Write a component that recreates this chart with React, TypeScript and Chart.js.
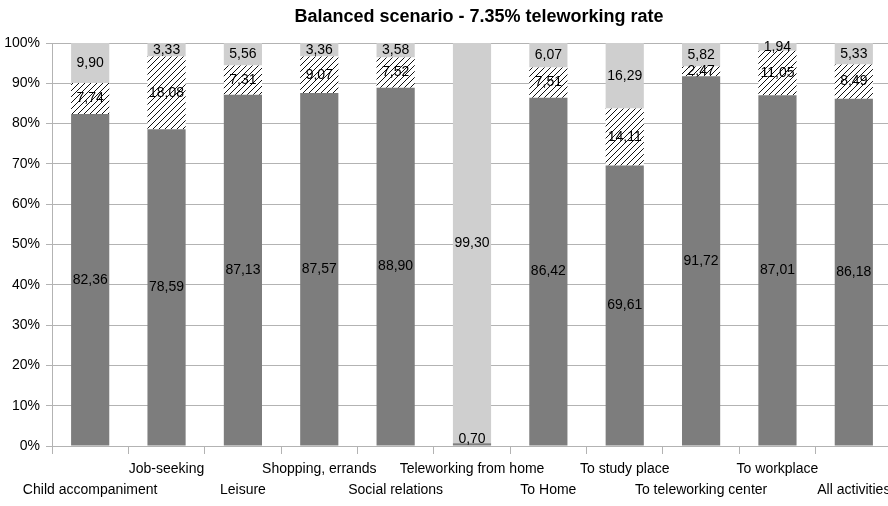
import React, { useEffect, useRef } from 'react';
import { Chart, registerables } from 'chart.js';

Chart.register(...registerables);

const categories = [
  'Child accompaniment',
  'Job-seeking',
  'Leisure',
  'Shopping, errands',
  'Social relations',
  'Teleworking from home',
  'To Home',
  'To study place',
  'To teleworking center',
  'To workplace',
  'All activities',
];
const bottomValues = [82.36, 78.59, 87.13, 87.57, 88.9, 0.7, 86.42, 69.61, 91.72, 87.01, 86.18];
const middleValues = [7.74, 18.08, 7.31, 9.07, 7.52, 0, 7.51, 14.11, 2.47, 11.05, 8.49];
const topValues = [9.9, 3.33, 5.56, 3.36, 3.58, 99.3, 6.07, 16.29, 5.82, 1.94, 5.33];
const titleText = 'Balanced scenario - 7.35% teleworking rate';

const FONT = '"Liberation Sans", Arial, sans-serif';

function makeHatch(): CanvasPattern | string {
  const s = 6;
  const c = document.createElement('canvas');
  c.width = s;
  c.height = s;
  const g = c.getContext('2d');
  if (!g) return '#ffffff';
  g.fillStyle = '#ffffff';
  g.fillRect(0, 0, s, s);
  g.strokeStyle = '#111111';
  g.lineWidth = 1;
  g.beginPath();
  g.moveTo(0, s);
  g.lineTo(s, 0);
  g.moveTo(-1, 1);
  g.lineTo(1, -1);
  g.moveTo(s - 1, s + 1);
  g.lineTo(s + 1, s - 1);
  g.stroke();
  return g.createPattern(c, 'repeat') || '#ffffff';
}

const valueLabels = {
  id: 'valueLabels',
  afterDatasetsDraw(chart: any) {
    const ctx = chart.ctx;
    ctx.save();
    ctx.font = '14px ' + FONT;
    ctx.fillStyle = '#000';
    ctx.textAlign = 'center';
    ctx.textBaseline = 'middle';
    chart.data.datasets.forEach((ds: any, di: number) => {
      const meta = chart.getDatasetMeta(di);
      meta.data.forEach((el: any, i: number) => {
        const v = ds.data[i];
        if (!v) return;
        const p = el.getProps(['x', 'y', 'base'], true);
        let cy = (p.y + p.base) / 2;
        if (Math.abs(p.base - p.y) < 6) cy = p.base - 6;
        ctx.fillText(v.toFixed(2).replace('.', ','), p.x, cy);
      });
    });
    ctx.restore();
  },
};

const titlePlugin = {
  id: 'customTitle',
  afterDraw(chart: any) {
    const ctx = chart.ctx;
    ctx.save();
    ctx.font = 'bold 18px ' + FONT;
    ctx.fillStyle = '#000';
    ctx.textAlign = 'center';
    ctx.textBaseline = 'middle';
    ctx.fillText(titleText, 479, 17);
    ctx.restore();
  },
};

export default function App() {
  const ref = useRef<HTMLCanvasElement | null>(null);

  useEffect(() => {
    if (!ref.current) return;
    const hatch = makeHatch();
    const labels = categories.map((c, i) => (i % 2 === 0 ? ['', c] : [c, '']));
    const chart = new Chart(ref.current, {
      type: 'bar',
      data: {
        labels,
        datasets: [
          { label: 'a', data: bottomValues, backgroundColor: '#7d7d7d', borderWidth: 0 },
          { label: 'b', data: middleValues, backgroundColor: hatch as any, borderWidth: 0 },
          { label: 'c', data: topValues, backgroundColor: '#cfcfcf', borderWidth: 0 },
        ],
      },
      options: {
        animation: false,
        responsive: true,
        maintainAspectRatio: false,
        devicePixelRatio: 1,
        layout: { padding: { top: 43, right: 68, bottom: 0, left: 0 } },
        datasets: { bar: { categoryPercentage: 1, barPercentage: 0.5 } },
        plugins: {
          legend: { display: false },
          title: { display: false },
          tooltip: { enabled: false },
        },
        scales: {
          x: {
            stacked: true,
            offset: true,
            grid: {
              offset: true,
              drawOnChartArea: false,
              drawTicks: true,
              tickLength: 8,
              color: '#b3b3b3',
            },
            border: { display: true, color: '#b3b3b3' },
            ticks: {
              autoSkip: false,
              maxRotation: 0,
              minRotation: 0,
              padding: 5,
              color: '#000',
              font: { size: 14, family: FONT, lineHeight: 1.5 },
            },
            afterFit(scale: any) {
              scale.height = 60;
            },
          },
          y: {
            stacked: true,
            min: 0,
            max: 100,
            grid: { color: '#b3b3b3', tickLength: 6, drawTicks: true },
            border: { display: true, color: '#b3b3b3' },
            ticks: {
              stepSize: 10,
              padding: 6,
              color: '#000',
              font: { size: 14, family: FONT },
              callback: (v: any) => v + '%',
            },
            afterFit(scale: any) {
              scale.width = 52;
            },
          },
        },
      },
      plugins: [valueLabels, titlePlugin],
    });
    return () => chart.destroy();
  }, []);

  return (
    <div style={{ position: 'fixed', left: 0, top: 0, width: 960, height: 506, background: '#fff' }}>
      <canvas ref={ref} />
    </div>
  );
}
